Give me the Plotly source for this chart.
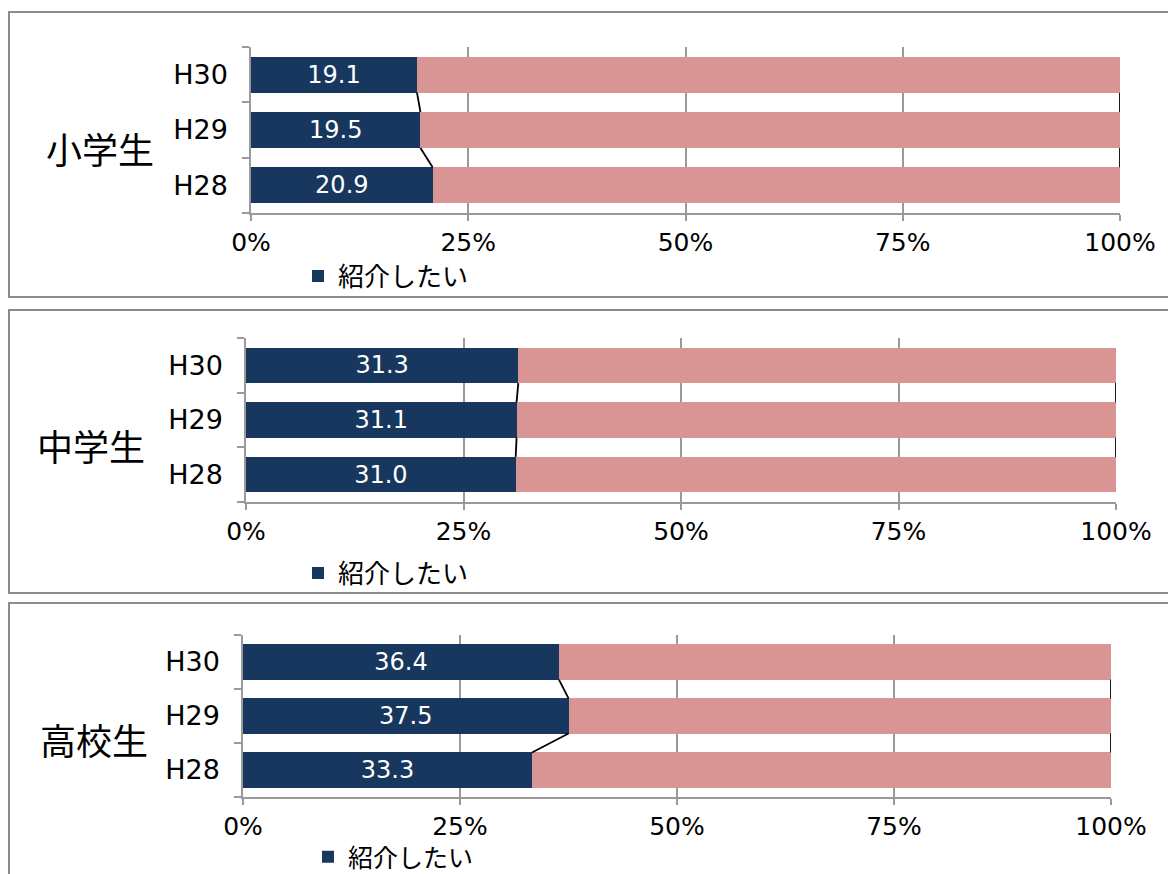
import plotly.graph_objects as go

W, H = 1168, 874

groups = ["小学生", "中学生", "高校生"]
years = ["H28", "H29", "H30"]          # bottom -> top
share = {                              # 紹介したい (%), order H28, H29, H30
    "小学生": [20.9, 19.5, 19.1],
    "中学生": [31.0, 31.1, 31.3],
    "高校生": [33.3, 37.5, 36.4],
}
legend_name = "紹介したい"
x_ticks = [0, 25, 50, 75, 100]
x_ticktext = ["0%", "25%", "50%", "75%", "100%"]

NAVY = "#17375E"
PINK = "#D99594"
GRID = "#9A9A9A"
BORDER = "#8C8C8C"
FONT = "DejaVu Sans, Noto Sans CJK JP"
JFONT = "Noto Sans CJK JP"
BAR_W = 0.65

# panel layout in pixels
panels = [
    dict(px0=251, px1=1120, pt=47, pb=213, bt=12, bb=297, lx=100, ly=148, gx=298, gy=276, gf=26),
    dict(px0=246, px1=1116, pt=338, pb=502, bt=310, bb=593, lx=91, ly=445, gx=298, gy=573, gf=26),
    dict(px0=243, px1=1111, pt=635, pb=797, bt=603, bb=900, lx=94, ly=739, gx=308, gy=857, gf=25),
]

fig = go.Figure()
yidx = list(range(len(years)))

for k, (g, p) in enumerate(zip(groups, panels)):
    sfx = "" if k == 0 else str(k + 1)
    xa, ya = "x" + sfx, "y" + sfx
    vals = share[g]
    rest = [round(100 - v, 1) for v in vals]
    lg = "legend" + sfx
    fig.add_trace(go.Bar(
        y=yidx, x=vals, orientation="h", width=BAR_W, name=legend_name,
        marker=dict(color=NAVY, line=dict(width=0)),
        text=[f"{v:.1f}" for v in vals], textposition="inside",
        insidetextanchor="middle", constraintext="none",
        textfont=dict(color="white", size=24, family=FONT),
        xaxis=xa, yaxis=ya, legend=lg, showlegend=True, hoverinfo="x+name",
    ))
    fig.add_trace(go.Bar(
        y=yidx, x=rest, orientation="h", width=BAR_W, name="その他",
        marker=dict(color=PINK, line=dict(width=0)),
        xaxis=xa, yaxis=ya, showlegend=False, hoverinfo="x",
    ))
    # series lines (connect bar ends between adjacent categories)
    sx, sy = [], []
    tops = [100.0] * len(vals)
    for series in (vals, tops):
        for i in range(len(years) - 1, 0, -1):
            sx += [series[i], series[i - 1], None]
            sy += [i - BAR_W / 2, i - 1 + BAR_W / 2, None]
    fig.add_trace(go.Scatter(
        x=sx, y=sy, mode="lines", line=dict(color="black", width=1.8),
        xaxis=xa, yaxis=ya, showlegend=False, hoverinfo="skip",
    ))

    xdom = [p["px0"] / W, p["px1"] / W]
    ydom = [1 - p["pb"] / H, 1 - p["pt"] / H]
    fig.update_layout(**{
        "xaxis" + sfx: dict(
            domain=xdom, anchor=ya, range=[0, 100],
            tickvals=x_ticks, ticktext=x_ticktext,
            showgrid=True, gridcolor=GRID, gridwidth=1.5,
            showline=True, linecolor=GRID, linewidth=1.5,
            ticks="outside", ticklen=6, tickcolor=GRID, tickwidth=1.5,
            tickfont=dict(size=25, color="black", family=FONT),
            zeroline=False, fixedrange=True, automargin=False,
        ),
        "yaxis" + sfx: dict(
            domain=ydom, anchor=xa, range=[-0.5, len(years) - 0.5],
            tickvals=yidx, ticktext=years, ticks="",
            showgrid=False, zeroline=False,
            showline=True, linecolor=GRID, linewidth=1.5,
            minor=dict(tickvals=[i - 0.5 for i in range(len(years) + 1)],
                       ticks="outside", ticklen=7, tickcolor=GRID, tickwidth=1.5,
                       showgrid=False),
            ticklabelstandoff=16,
            tickfont=dict(size=27, color="black", family=FONT),
            fixedrange=True, automargin=False,
        ),
        lg: dict(
            x=p["gx"] / W, y=1 - p["gy"] / H, xanchor="left", yanchor="middle",
            orientation="h", bgcolor="rgba(0,0,0,0)",
            font=dict(size=p["gf"], color="black", family=JFONT),
            itemclick=False, itemdoubleclick=False,
        ),
    })
    fig.add_annotation(
        x=p["lx"] / W, y=1 - p["ly"] / H, xref="paper", yref="paper",
        text=g, showarrow=False, xanchor="center", yanchor="middle",
        font=dict(size=36, color="black", family=JFONT),
    )
    fig.add_shape(
        type="rect", xref="paper", yref="paper",
        x0=9 / W, x1=1.02, y0=1 - p["bb"] / H, y1=1 - p["bt"] / H,
        line=dict(color=BORDER, width=2), fillcolor="rgba(0,0,0,0)", layer="below",
    )

fig.update_layout(
    width=W, height=H, margin=dict(l=0, r=0, t=0, b=0, pad=0, autoexpand=False),
    barmode="stack", bargap=0.35,
    paper_bgcolor="white", plot_bgcolor="white",
    font=dict(family=FONT, color="black"),
)

fig.write_html("out.html", config={"displayModeBar": False},
               post_script="document.body.style.margin='0';")
